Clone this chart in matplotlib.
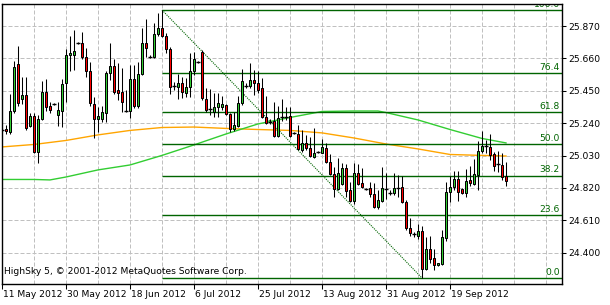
import numpy as np
import matplotlib
matplotlib.use("Agg")
import matplotlib.pyplot as plt
import matplotlib.transforms as mtransforms

plt.rcParams['font.family'] = ['DejaVu Sans']

# daily bars, oldest first (open, high, low, close)
opens = [25.196, 25.202, 25.183, 25.319, 25.624, 25.397, 25.423, 25.222, 25.287, 25.053,
         25.267, 25.442, 25.352, 25.365, 25.293, 25.319, 25.501, 25.682, 25.682, 25.760,
         25.760, 25.669, 25.579, 25.365, 25.267, 25.267, 25.306, 25.566, 25.611, 25.455,
         25.442, 25.319, 25.319, 25.527, 25.352, 25.559, 25.760, 25.669, 25.669, 25.819,
         25.857, 25.806, 25.721, 25.481, 25.475, 25.501, 25.436, 25.475, 25.579, 25.637,
         25.702, 25.397, 25.332, 25.313, 25.345, 25.345, 25.358, 25.300, 25.202, 25.222,
         25.371, 25.481, 25.481, 25.520, 25.501, 25.468, 25.280, 25.248, 25.254, 25.157,
         25.280, 25.280, 25.287, 25.177, 25.170, 25.066, 25.112, 25.079, 25.021, 25.053,
         25.047, 25.079, 24.988, 24.911, 24.813, 24.846, 24.950, 24.807, 24.735, 24.917,
         24.852, 24.813, 24.820, 24.781, 24.697, 24.735, 24.813, 24.787, 24.787, 24.820,
         24.826, 24.729, 24.560, 24.521, 24.508, 24.541, 24.294, 24.424, 24.366, 24.320,
         24.327, 24.496, 24.794, 24.826, 24.878, 24.813, 24.787, 24.872, 24.846, 24.904,
         25.060, 25.092, 25.086, 25.040, 24.976, 24.969, 24.898]
highs = [25.215, 25.228, 25.429, 25.643, 25.741, 25.540, 25.540, 25.306, 25.306, 25.293,
         25.514, 25.527, 25.378, 25.371, 25.378, 25.527, 25.721, 25.806, 25.844, 25.767,
         25.832, 25.728, 25.637, 25.410, 25.345, 25.352, 25.579, 25.760, 25.656, 25.630,
         25.598, 25.455, 25.617, 25.617, 25.637, 25.857, 25.916, 25.682, 25.890, 25.955,
         25.974, 25.825, 25.734, 25.507, 25.559, 25.540, 25.533, 25.695, 25.702, 25.643,
         25.715, 25.468, 25.462, 25.436, 25.436, 25.416, 25.365, 25.306, 25.313, 25.416,
         25.592, 25.501, 25.630, 25.585, 25.579, 25.533, 25.416, 25.267, 25.378, 25.352,
         25.397, 25.345, 25.345, 25.183, 25.228, 25.196, 25.164, 25.151, 25.209, 25.060,
         25.138, 25.112, 25.040, 24.956, 25.014, 24.982, 24.976, 24.859, 24.982, 24.976,
         24.950, 24.820, 24.859, 24.852, 24.807, 24.956, 24.917, 24.807, 24.917, 24.904,
         24.898, 24.742, 24.625, 24.534, 24.586, 24.573, 24.502, 24.508, 24.424, 24.333,
         24.547, 24.859, 24.898, 24.930, 24.930, 24.820, 24.943, 24.963, 25.008, 25.125,
         25.190, 25.131, 25.170, 25.053, 25.060, 25.047, 24.988]
lows = [25.177, 25.170, 25.170, 25.306, 25.352, 25.365, 25.196, 25.215, 25.047, 24.982,
        25.261, 25.319, 25.306, 25.358, 25.222, 25.215, 25.378, 25.579, 25.585, 25.754,
        25.656, 25.540, 25.352, 25.144, 25.183, 25.248, 25.248, 25.520, 25.429, 25.391,
        25.313, 25.313, 25.274, 25.339, 25.339, 25.553, 25.669, 25.663, 25.663, 25.806,
        25.799, 25.695, 25.429, 25.455, 25.397, 25.404, 25.410, 25.410, 25.553, 25.630,
        25.391, 25.313, 25.293, 25.280, 25.280, 25.326, 25.293, 25.183, 25.190, 25.215,
        25.358, 25.468, 25.468, 25.423, 25.436, 25.274, 25.235, 25.235, 25.151, 25.151,
        25.254, 25.261, 25.151, 25.170, 25.066, 25.053, 25.066, 25.021, 25.014, 25.047,
        25.047, 24.982, 24.904, 24.761, 24.807, 24.839, 24.761, 24.729, 24.716, 24.839,
        24.820, 24.807, 24.761, 24.690, 24.684, 24.729, 24.748, 24.774, 24.774, 24.761,
        24.722, 24.547, 24.508, 24.502, 24.489, 24.236, 24.288, 24.333, 24.288, 24.314,
        24.320, 24.476, 24.729, 24.807, 24.735, 24.781, 24.761, 24.833, 24.839, 24.807,
        25.047, 25.047, 25.001, 24.930, 24.924, 24.872, 24.833]
closes = [25.196, 25.190, 25.319, 25.605, 25.371, 25.423, 25.209, 25.287, 25.053, 25.267,
          25.442, 25.345, 25.326, 25.365, 25.326, 25.494, 25.682, 25.695, 25.708, 25.760,
          25.669, 25.579, 25.371, 25.267, 25.287, 25.313, 25.566, 25.611, 25.442, 25.436,
          25.378, 25.319, 25.527, 25.352, 25.559, 25.760, 25.728, 25.669, 25.819, 25.857,
          25.806, 25.721, 25.475, 25.481, 25.501, 25.442, 25.475, 25.579, 25.656, 25.637,
          25.404, 25.326, 25.332, 25.345, 25.371, 25.365, 25.300, 25.202, 25.228, 25.371,
          25.514, 25.481, 25.520, 25.501, 25.455, 25.280, 25.241, 25.248, 25.157, 25.274,
          25.280, 25.280, 25.157, 25.177, 25.073, 25.112, 25.079, 25.027, 25.047, 25.053,
          25.086, 24.988, 24.911, 24.813, 24.917, 24.950, 24.800, 24.735, 24.917, 24.846,
          24.826, 24.813, 24.781, 24.697, 24.742, 24.820, 24.813, 24.787, 24.820, 24.820,
          24.729, 24.560, 24.528, 24.521, 24.541, 24.294, 24.424, 24.359, 24.320, 24.333,
          24.502, 24.794, 24.826, 24.878, 24.794, 24.787, 24.865, 24.852, 24.911, 25.060,
          25.092, 25.092, 25.034, 24.963, 24.976, 24.891, 24.865]

# moving averages, read at a few bars
ma_orange_bar = [0, 8, 16, 24, 32, 40, 48, 56, 64, 72, 80, 88, 96, 104, 112, 120, 126]
ma_orange = [25.086, 25.102, 25.128, 25.164, 25.193, 25.212, 25.215, 25.206, 25.199,
             25.193, 25.177, 25.144, 25.105, 25.073, 25.037, 25.031, 25.027]
ma_green_bar = [0, 8, 12, 16, 24, 32, 40, 48, 56, 64, 72, 80, 88, 94, 96, 104, 112, 120, 126]
ma_green = [24.875, 24.875, 24.872, 24.891, 24.937, 24.969, 25.031, 25.099, 25.170, 25.235,
            25.277, 25.316, 25.319, 25.319, 25.309, 25.261, 25.199, 25.141, 25.112]

fib_levels = [0.0, 23.6, 38.2, 50.0, 61.8, 76.4, 100.0]
fib_start, fib_end = 40, 105

price_ticks = [25.870, 25.660, 25.450, 25.240, 25.030, 24.820, 24.610, 24.400]
date_bars = [0, 16, 32, 48, 64, 80, 96, 112]
date_labels = ['11 May 2012', '30 May 2012', '18 Jun 2012', '6 Jul 2012',
               '25 Jul 2012', '13 Aug 2012', '31 Aug 2012', '19 Sep 2012']

BULL = '#32cd32'
BEAR = '#ff0000'
FIB = '#006400'
FS = 6.6

fig = plt.figure(figsize=(6.1, 3.05), dpi=100)
ax = fig.add_axes([2 / 610, 21 / 305, 560 / 610, 280 / 305])
ax.set_xlim(0, 140)
ax.set_ylim(24.197, 26.013)

# grid
grid_kw = dict(color='#c0c0c0', lw=0.72, dashes=(4, 2), zorder=0)
for b in range(8, 140, 8):
    ax.axvline(b, **grid_kw)
for p in price_ticks:
    ax.axhline(p, **grid_kw)

# moving averages
ax.plot(ma_orange_bar, ma_orange, color='#ffa500', lw=1.0, zorder=1)
ax.plot(ma_green_bar, ma_green, color='#32cd32', lw=1.0, zorder=1)

# fibonacci retracement
hi = highs[fib_start]
lo = lows[fib_end]
ax.plot([fib_start, fib_end], [hi, lo], color=FIB, lw=0.8, ls=(0, (1, 1)), zorder=2)
for lev in fib_levels:
    p = lo + (hi - lo) * lev / 100
    ax.hlines(p, fib_start, 140, color=FIB, lw=1.0, zorder=2)
    ax.text(139.5, p + 0.008, f'{lev:.1f}', color=FIB, fontsize=FS,
            ha='right', va='bottom', clip_on=True, zorder=2)

# candles
x = np.arange(len(opens))
o = np.array(opens)
c = np.array(closes)
ax.vlines(x, lows, highs, color='black', lw=0.75, zorder=3)
body = np.abs(c - o) > 1e-9
cols = np.where(c >= o, BULL, BEAR)
ax.bar(x[body], np.abs(c - o)[body], bottom=np.minimum(o, c)[body], width=0.5,
       color=cols[body], edgecolor='black', lw=0.72, zorder=4)
ax.hlines(o[~body], x[~body] - 0.4, x[~body] + 0.4, color='black', lw=1.0, zorder=4)

# axes styling
for s in ax.spines.values():
    s.set_color('black')
    s.set_linewidth(1.0)
ax.yaxis.tick_right()
ax.set_yticks(price_ticks)
ax.set_yticklabels([f'{p:.3f}' for p in price_ticks])
ax.tick_params(axis='y', direction='out', length=3, width=0.75, pad=1.2, labelsize=FS)
ax.set_xticks(date_bars)
ax.set_xticklabels(date_labels)
ax.tick_params(axis='x', direction='out', length=3.5, width=0.75, pad=1.0, labelsize=FS)
for lbl in ax.get_xticklabels():
    lbl.set_horizontalalignment('left')
offset = mtransforms.ScaledTranslation(1 / 100, 0, fig.dpi_scale_trans)
for lbl in ax.get_xticklabels():
    lbl.set_transform(lbl.get_transform() + offset)

ax.text(0.004, 0.027, 'HighSky 5, \u00a9 2001-2012 MetaQuotes Software Corp.',
        transform=ax.transAxes, fontsize=FS, color='black', ha='left', va='bottom', zorder=5)

fig.savefig('out.png', dpi=100, facecolor='white')
